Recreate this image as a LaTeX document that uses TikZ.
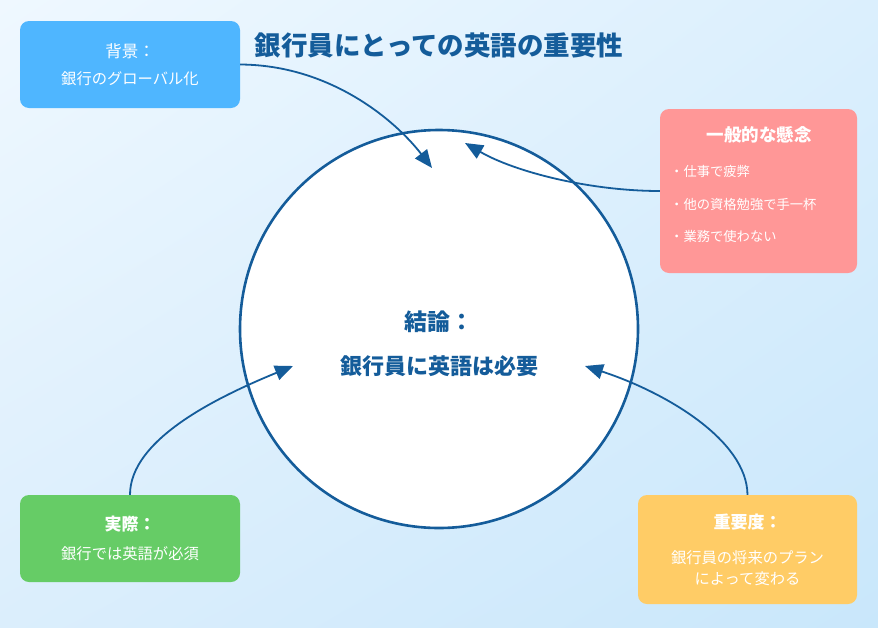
\documentclass[tikz,border=0pt]{standalone}
\usepackage{fontspec}
\setmainfont{Noto Sans CJK JP}
\usepackage{tikz}
\usetikzlibrary{shapes.geometric, arrows.meta, positioning, calc, shadings}
\definecolor{deepblue}{HTML}{145C9A}
\definecolor{skyblue}{HTML}{4FB6FF}
\definecolor{salmon}{HTML}{FF9797}
\definecolor{leafgreen}{HTML}{66CC66}
\definecolor{sunyellow}{HTML}{FFCC66}
\definecolor{bgtl}{HTML}{EFF8FF}
\definecolor{bgtr}{HTML}{DBEFFD}
\definecolor{bgbl}{HTML}{DBEEFC}
\definecolor{bgbr}{HTML}{C9E7FB}
\tikzstyle{box} = [rectangle,
rounded corners=9pt,
inner sep=0pt,
text=white,
align=center]
\tikzstyle{bigcircle} = [circle,
minimum size=398pt,
draw=deepblue, line width=2.6pt,
fill=white]
\tikzstyle{arrow} = [draw=deepblue, line width=1.8pt, -{Triangle[length=18pt,width=15pt]}]

\begin{document}
\begin{tikzpicture}[x=1pt, y=-1pt]
                % background
                \shade [upper left=bgtl, upper right=bgtr, lower left=bgbl, lower right=bgbr] (0,0) rectangle (878,627);
                \useasboundingbox (0,0) rectangle (878,627);

                \node (title) at (439,45) [text=deepblue, font=\fontsize{26.5}{30}\selectfont\bfseries] {銀行員にとっての英語の重要性};

                \node (concl) at (439,329) [bigcircle] {};
                \node (conclhead) at (439,322) [text=deepblue, font=\fontsize{23}{26}\selectfont\bfseries] {結論：};
                \node (concltext) at (439,366) [text=deepblue, font=\fontsize{22}{26}\selectfont\bfseries] {銀行員に英語は必要};

                \node (bg) at (130,64.5) [box, fill=skyblue, minimum width=220pt, minimum height=87pt,
                        font=\fontsize{15.3}{27}\selectfont] {{\fontsize{16.5}{27}\selectfont 背景：}\\銀行のグローバル化};
                \node (concern) at (758.5,191) [box, fill=salmon, minimum width=197pt, minimum height=164pt] {};
                \node (concernhead) at (759,135) [text=white, font=\fontsize{17.5}{20}\selectfont\bfseries] {一般的な懸念};
                \node (concernlist) at (670,204) [anchor=west, inner sep=0pt, text=white, align=left,
                        font=\fontsize{13.3}{32.5}\selectfont] {・仕事で疲弊\\・他の資格勉強で手一杯\\・業務で使わない};
                \node (practice) at (130,538.5) [box, fill=leafgreen, minimum width=220pt, minimum height=87pt,
                        font=\fontsize{15.3}{29}\selectfont] {{\fontsize{17}{29}\selectfont\bfseries 実際：}\\銀行では英語が必須};
                \node (importance) at (747.5,549.5) [box, fill=sunyellow, minimum width=219pt, minimum height=109pt,
                        font=\fontsize{15.3}{21}\selectfont] {{\fontsize{17}{21}\selectfont\bfseries 重要度：}\\[14pt]銀行員の将来のプラン\\によって変わる};

                \coordinate (tipbg) at (432,168);
                \coordinate (tipconcern) at (465,143);
                \coordinate (tippractice) at (293,366);
                \coordinate (tipimportance) at (585,366);

                \draw [arrow] (bg.east) .. controls (330,65) and (395,120) .. (tipbg);
                \draw [arrow] (concern.west) .. controls (590,191) and (515,172) .. (tipconcern);
                \draw [arrow] (practice.north) .. controls (130,440) and (215,398) .. (tippractice);
                \draw [arrow] (importance.north) .. controls (747,440) and (665,392) .. (tipimportance);
            \end{tikzpicture}
\end{document}
